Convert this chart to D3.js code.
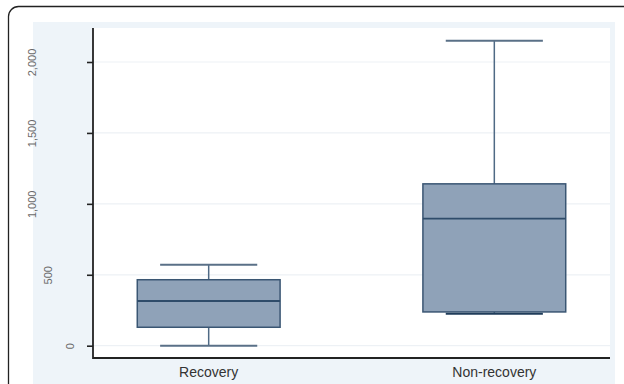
<!DOCTYPE html>
<html><head><meta charset="utf-8">
<script src="https://cdn.jsdelivr.net/npm/d3@7"></script>
<style>body{margin:0;background:#fff;}svg{display:block;}</style>
</head><body><svg id="c" width="624" height="384"></svg>
<script>
const categories = ["Recovery", "Non-recovery"];
const mins = [0, 225];
const q1s = [130, 238];
const medians = [315, 896];
const q3s = [465, 1141];
const maxs = [570, 2150];
const yTicks = [0, 500, 1000, 1500, 2000];

(function () {
const data = categories.map((c, i) => ({cat: c, min: mins[i], q1: q1s[i], med: medians[i], q3: q3s[i], max: maxs[i]}));

const svg = d3.select("#c");
// outer frame
svg.append("rect").attr("x", 8.5).attr("y", 6.5).attr("width", 640).attr("height", 400)
  .attr("rx", 10).attr("fill", "#fff").attr("stroke", "#222").attr("stroke-width", 1.3);
// graph region background
svg.append("rect").attr("x", 33).attr("y", 22).attr("width", 582).attr("height", 362).attr("fill", "#eef4f9");

const pL = 93, pR = 610, pT = 28, pB = 358;
svg.append("rect").attr("x", pL).attr("y", pT).attr("width", pR - pL).attr("height", pB - pT).attr("fill", "#fff");

const y = d3.scaleLinear().domain([0, 2000]).range([345.7, 62]);
const x = d3.scaleBand().domain(categories).range([pL, pR]).paddingInner(0.5).paddingOuter(0.155);

// grid
svg.append("g").selectAll("line").data(yTicks).join("line")
  .attr("x1", pL).attr("x2", pR).attr("y1", d => y(d)).attr("y2", d => y(d))
  .attr("stroke", "#edf1f5").attr("stroke-width", 1.2);

// y axis
const yAxis = d3.axisLeft(y).tickValues(yTicks).tickSize(6).tickFormat(d3.format(","));
const gy = svg.append("g").attr("transform", `translate(${pL},0)`).call(yAxis);
gy.select(".domain").remove();
gy.selectAll(".tick line").attr("stroke", "#222").attr("stroke-width", 1.6);
gy.selectAll(".tick text")
  .attr("fill", "#6a6a6a").attr("font-family", "Liberation Sans, Arial, sans-serif").attr("font-size", 11)
  .attr("text-anchor", "middle").attr("dy", "0.35em").attr("x", 0).attr("y", 0)
  .each(function () {
    const w = this.getComputedTextLength();
    const cx = 80.8 - 1.78 * w - pL; // label centre, relative to axis
    d3.select(this).attr("transform", `translate(${cx},0) rotate(-90)`);
  });
svg.append("line").attr("x1", pL).attr("x2", pL).attr("y1", pT).attr("y2", pB + 1)
  .attr("stroke", "#222").attr("stroke-width", 1.8);

// x axis
const xAxis = d3.axisBottom(x).tickSize(0);
const gx = svg.append("g").attr("transform", `translate(0,${pB})`).call(xAxis);
gx.select(".domain").remove();
gx.selectAll(".tick text").attr("y", 18.5).attr("dy", 0)
  .attr("fill", "#333").attr("font-family", "Liberation Sans, Arial, sans-serif").attr("font-size", 14);
svg.append("line").attr("x1", pL).attr("x2", pR).attr("y1", pB).attr("y2", pB)
  .attr("stroke", "#222").attr("stroke-width", 1.8);

// boxes
const g = svg.append("g").selectAll("g").data(data).join("g");
const bw = x.bandwidth();
const capFrac = 0.34;
g.append("line").attr("x1", d => x(d.cat) + bw / 2).attr("x2", d => x(d.cat) + bw / 2)
  .attr("y1", d => y(d.max)).attr("y2", d => y(d.q3)).attr("stroke", "#4f6a85").attr("stroke-width", 1.5);
g.append("line").attr("x1", d => x(d.cat) + bw / 2).attr("x2", d => x(d.cat) + bw / 2)
  .attr("y1", d => y(d.q1)).attr("y2", d => y(d.min)).attr("stroke", "#4f6a85").attr("stroke-width", 1.5);
g.append("line").attr("x1", d => x(d.cat) + bw * (0.5 - capFrac)).attr("x2", d => x(d.cat) + bw * (0.5 + capFrac))
  .attr("y1", d => y(d.max)).attr("y2", d => y(d.max)).attr("stroke", "#5a7087").attr("stroke-width", 2);
g.append("rect").attr("x", d => x(d.cat)).attr("width", bw)
  .attr("y", d => y(d.q3)).attr("height", d => y(d.q1) - y(d.q3))
  .attr("fill", "#8fa2b8").attr("stroke", "#3a5673").attr("stroke-width", 1.5);
g.append("line").attr("x1", d => x(d.cat)).attr("x2", d => x(d.cat) + bw)
  .attr("y1", d => y(d.med)).attr("y2", d => y(d.med)).attr("stroke", "#2f4c6a").attr("stroke-width", 1.8);
g.append("line").attr("x1", d => x(d.cat) + bw * (0.5 - capFrac)).attr("x2", d => x(d.cat) + bw * (0.5 + capFrac))
  .attr("y1", d => y(d.min)).attr("y2", d => y(d.min)).attr("stroke", d => d.min > d.q1 - 30 ? "#1f3c5a" : "#5a7087").attr("stroke-width", 2);
})();
</script></body></html>
